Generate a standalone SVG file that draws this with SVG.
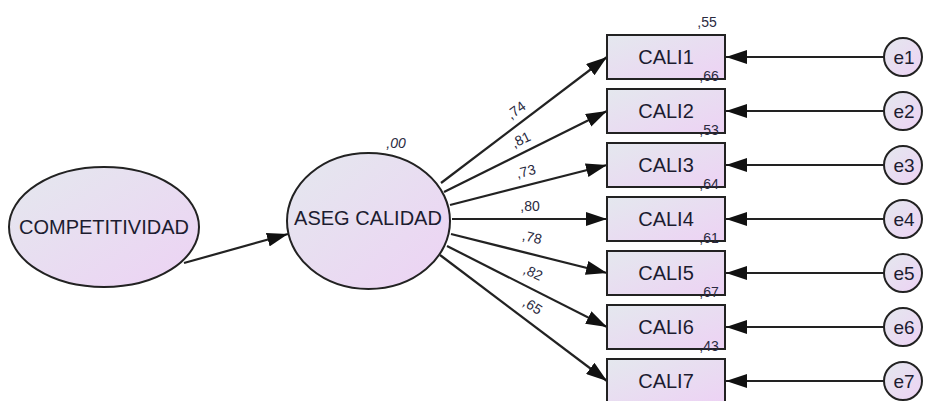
<svg xmlns="http://www.w3.org/2000/svg" width="925" height="401" viewBox="0 0 925 401">
<defs>
<linearGradient id="g" x1="0" y1="0" x2="1" y2="1">
<stop offset="0" stop-color="#e4e8ee"/>
<stop offset="1" stop-color="#edd2f4"/>
</linearGradient>
<marker id="ah" markerUnits="userSpaceOnUse" markerWidth="21" markerHeight="14" refX="21" refY="7" orient="auto">
<path d="M0,0 L21,7 L0,14 z" fill="#111"/>
</marker>
<style>
.sh{fill:url(#g);stroke:#222;stroke-width:2}
.t{font-family:"Liberation Sans",Arial,sans-serif;font-size:20px;fill:#1c1c30;text-anchor:middle}
.e{font-family:"Liberation Sans",Arial,sans-serif;font-size:19px;fill:#1c1c30;text-anchor:middle}
.n{font-family:"Liberation Sans",Arial,sans-serif;font-size:14px;fill:#2a2a40;text-anchor:middle}
.c line{stroke:#222;stroke-width:2.2;marker-end:url(#ah)}
</style>
</defs>
<g class="c" id="connectors">
<line x1="184" y1="263" x2="288" y2="234"/>
<line x1="441" y1="183" x2="607" y2="57"/>
<line x1="444" y1="192" x2="607" y2="111"/>
<line x1="450" y1="205" x2="607" y2="165"/>
<line x1="452" y1="219" x2="607" y2="219"/>
<line x1="451" y1="234" x2="607" y2="273"/>
<line x1="447" y1="246" x2="607" y2="327"/>
<line x1="440" y1="255" x2="607" y2="381"/>
<line x1="884" y1="57" x2="726" y2="57"/>
<line x1="884" y1="111" x2="726" y2="111"/>
<line x1="884" y1="165" x2="726" y2="165"/>
<line x1="884" y1="219" x2="726" y2="219"/>
<line x1="884" y1="273" x2="726" y2="273"/>
<line x1="884" y1="327" x2="726" y2="327"/>
<line x1="884" y1="381" x2="726" y2="381"/>
</g>
<g id="labels" class="n">
<text transform="translate(519,114) rotate(-36)">,74</text>
<text transform="translate(523,144) rotate(-26)">,81</text>
<text transform="translate(527,176) rotate(-14)">,73</text>
<text x="530" y="211">,80</text>
<text transform="translate(531,242) rotate(13)">,78</text>
<text transform="translate(531,277) rotate(25)">,82</text>
<text transform="translate(530,310) rotate(33)">,65</text>
</g>
<g id="COMPETITIVIDAD">
<ellipse class="sh" cx="104" cy="227" rx="95" ry="60"/>
<text class="t" x="104" y="234">COMPETITIVIDAD</text>
</g>
<g id="ASEG">
<ellipse class="sh" cx="368.5" cy="221" rx="81.5" ry="68"/>
<text class="t" x="368" y="225">ASEG CALIDAD</text>
<text class="n" x="396" y="148" font-style="italic">,00</text>
</g>
<g id="CALI1"><rect class="sh" x="607" y="35" width="118" height="44"/><text class="t" x="666" y="64">CALI1</text><text class="n" x="707" y="27">,55</text></g>
<g id="CALI2"><rect class="sh" x="607" y="89" width="118" height="44"/><text class="t" x="666" y="118">CALI2</text><text class="n" x="709" y="81">,66</text></g>
<g id="CALI3"><rect class="sh" x="607" y="143" width="118" height="44"/><text class="t" x="666" y="172">CALI3</text><text class="n" x="709" y="135">,53</text></g>
<g id="CALI4"><rect class="sh" x="607" y="197" width="118" height="44"/><text class="t" x="666" y="226">CALI4</text><text class="n" x="709" y="189">,64</text></g>
<g id="CALI5"><rect class="sh" x="607" y="251" width="118" height="44"/><text class="t" x="666" y="280">CALI5</text><text class="n" x="709" y="243">,61</text></g>
<g id="CALI6"><rect class="sh" x="607" y="305" width="118" height="44"/><text class="t" x="666" y="334">CALI6</text><text class="n" x="709" y="297">,67</text></g>
<g id="CALI7"><rect class="sh" x="607" y="359" width="118" height="44"/><text class="t" x="666" y="388">CALI7</text><text class="n" x="709" y="351">,43</text></g>
<g id="e1"><circle class="sh" cx="903" cy="57" r="19"/><text class="e" x="904" y="64">e1</text></g>
<g id="e2"><circle class="sh" cx="903" cy="111" r="19"/><text class="e" x="904" y="118">e2</text></g>
<g id="e3"><circle class="sh" cx="903" cy="165" r="19"/><text class="e" x="904" y="172">e3</text></g>
<g id="e4"><circle class="sh" cx="903" cy="219" r="19"/><text class="e" x="904" y="226">e4</text></g>
<g id="e5"><circle class="sh" cx="903" cy="273" r="19"/><text class="e" x="904" y="280">e5</text></g>
<g id="e6"><circle class="sh" cx="903" cy="327" r="19"/><text class="e" x="904" y="334">e6</text></g>
<g id="e7"><circle class="sh" cx="903" cy="381" r="19"/><text class="e" x="904" y="388">e7</text></g>
</svg>
